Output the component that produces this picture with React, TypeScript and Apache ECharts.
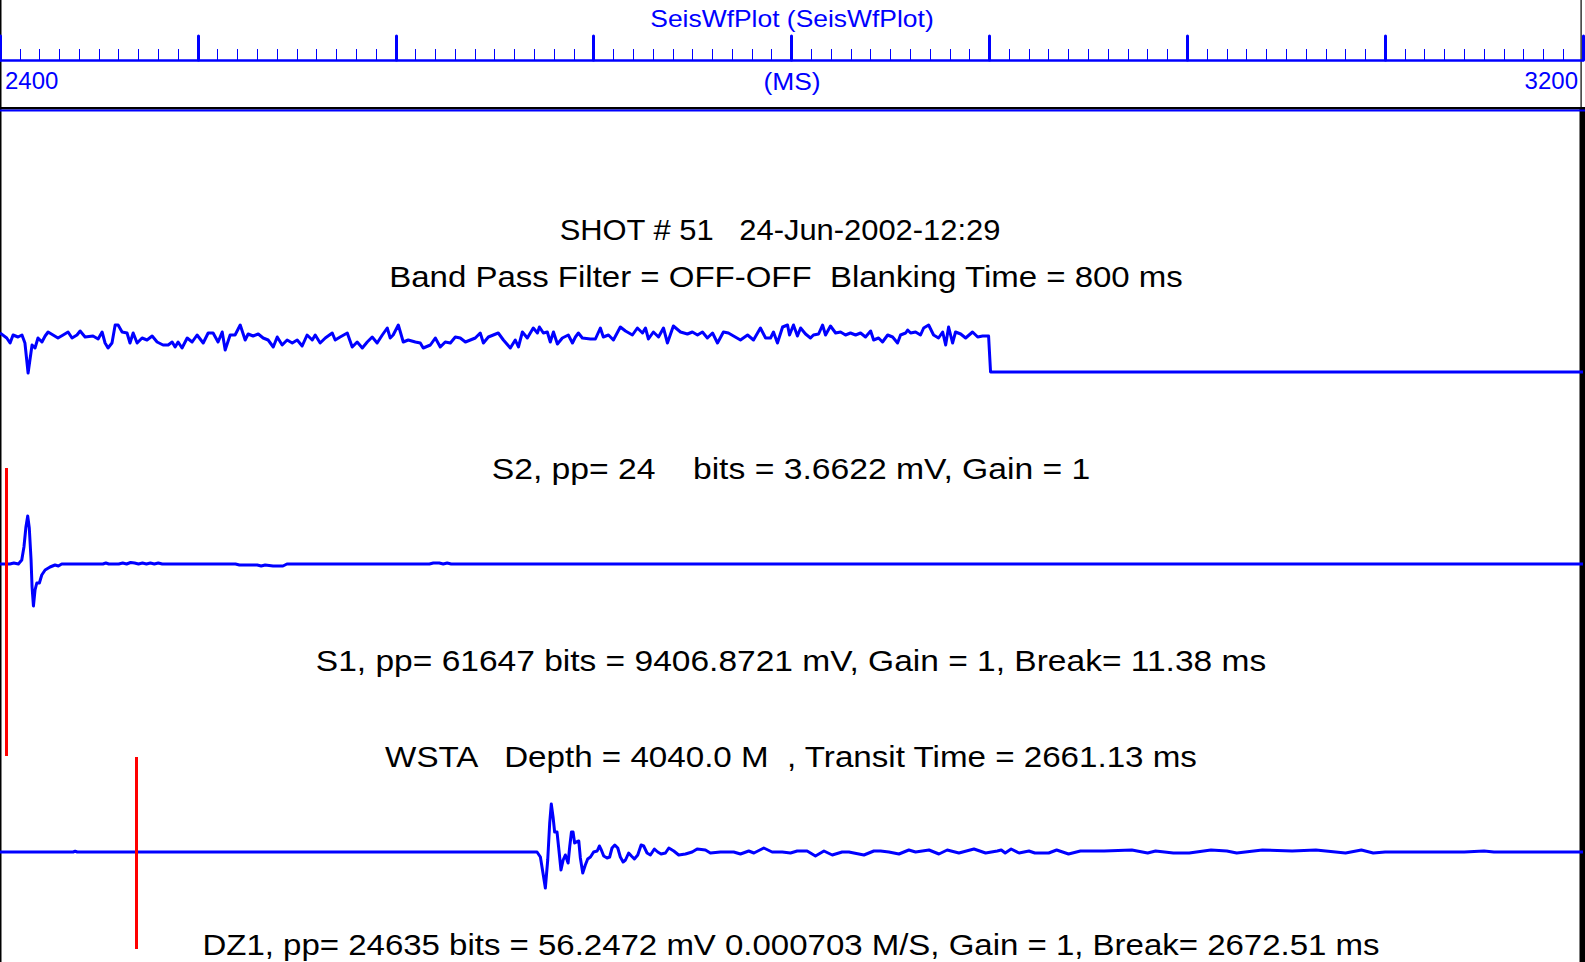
import React, { useEffect, useRef } from "react";
import * as echarts from "echarts";

const BLUE = "#0000ff";
const RED = "#ff0000";
const FONT = '"Liberation Sans", Arial, Helvetica, sans-serif';

// Time axis (ms)
const TIME_MIN = 2400;
const TIME_MAX = 3200;
const TIME_STEP = 100;
const EDGE_LABELS = [2400, 3200];

// Texts
const PLOT_TITLE = "SeisWfPlot (SeisWfPlot)";
const AXIS_UNIT = "(MS)";
const HEADER_1 = "SHOT # 51   24-Jun-2002-12:29";
const HEADER_2 = "Band Pass Filter = OFF-OFF  Blanking Time = 800 ms";
const LABEL_S2 = "S2, pp= 24    bits = 3.6622 mV, Gain = 1";
const LABEL_S1 = "S1, pp= 61647 bits = 9406.8721 mV, Gain = 1, Break= 11.38 ms";
const LABEL_WSTA = "WSTA   Depth = 4040.0 M  , Transit Time = 2661.13 ms";
const LABEL_DZ1 = "DZ1, pp= 24635 bits = 56.2472 mV 0.000703 M/S, Gain = 1, Break= 2672.51 ms";

// Break / pick markers (ms)
const S1_MARKER = [2403.4];
const DZ1_MARKER = [2468.8];

// Trace S2 : [time ms, amplitude]
const S2_TRACE = [
  [2400.0, 39], [2403.4, 34], [2405.1, 29], [2406.6, 37], [2409.1, 35], [2411.1, 37], [2412.6, 29], [2414.2, -1],
  [2416.2, 27], [2417.7, 24], [2419.2, 34], [2421.2, 30], [2422.8, 36], [2424.3, 40], [2426.8, 37], [2429.3, 34],
  [2431.9, 37], [2434.4, 40], [2436.4, 34], [2438.9, 37], [2440.5, 41], [2443.0, 35], [2447.0, 36], [2449.6, 33],
  [2451.6, 40], [2453.1, 29], [2454.6, 24], [2456.6, 29], [2458.2, 47], [2459.7, 47], [2461.7, 40], [2464.2, 39],
  [2465.7, 29], [2467.3, 39], [2469.3, 29], [2471.8, 34], [2474.3, 32], [2476.9, 36], [2479.4, 30], [2482.4, 27],
  [2485.0, 27], [2487.0, 30], [2488.5, 25], [2490.0, 30], [2492.0, 24], [2494.6, 34], [2497.1, 30], [2499.6, 37],
  [2502.7, 29], [2505.2, 39], [2507.7, 39], [2510.2, 30], [2512.3, 40], [2513.8, 22], [2516.3, 37], [2518.8, 37],
  [2521.4, 47], [2523.9, 32], [2525.4, 38], [2527.9, 36], [2530.5, 38], [2533.0, 34], [2535.5, 32], [2538.1, 25],
  [2540.1, 35], [2542.6, 27], [2545.1, 32], [2547.7, 29], [2550.2, 32], [2552.7, 26], [2555.2, 37], [2557.8, 32],
  [2559.3, 37], [2561.8, 29], [2564.4, 34], [2567.9, 39], [2569.4, 32], [2571.9, 35], [2575.5, 39], [2578.0, 25],
  [2580.5, 30], [2583.1, 24], [2585.6, 30], [2588.1, 35], [2590.6, 29], [2593.2, 37], [2595.7, 44], [2597.2, 34],
  [2598.7, 37], [2601.3, 47], [2603.8, 30], [2606.3, 32], [2609.9, 30], [2612.4, 29], [2613.9, 24], [2617.5, 27],
  [2620.0, 34], [2622.5, 25], [2625.0, 30], [2627.6, 29], [2630.1, 35], [2632.6, 34], [2635.2, 30], [2637.7, 32],
  [2640.2, 34], [2642.7, 39], [2644.3, 29], [2646.8, 35], [2649.3, 37], [2651.8, 39], [2654.4, 32], [2657.9, 24],
  [2660.4, 32], [2662.0, 25], [2664.0, 40], [2666.5, 34], [2669.5, 44], [2671.6, 39], [2672.6, 45], [2674.6, 39],
  [2676.6, 40], [2678.1, 30], [2679.7, 40], [2681.7, 28], [2684.2, 34], [2687.2, 37], [2689.3, 29], [2690.8, 35],
  [2692.3, 39], [2694.3, 34], [2698.4, 33], [2700.9, 33], [2703.4, 44], [2704.9, 35], [2707.5, 37], [2710.0, 32],
  [2713.5, 45], [2716.1, 41], [2719.6, 37], [2722.1, 44], [2724.7, 39], [2726.2, 44], [2727.7, 33], [2730.2, 40],
  [2732.8, 35], [2735.3, 44], [2737.3, 29], [2740.3, 46], [2743.9, 40], [2747.4, 38], [2749.9, 40], [2752.5, 37],
  [2755.0, 40], [2757.5, 34], [2760.1, 39], [2762.6, 29], [2765.6, 40], [2768.1, 39], [2770.7, 36], [2774.2, 32],
  [2777.8, 37], [2780.8, 32], [2784.3, 44], [2786.9, 34], [2789.4, 34], [2790.9, 40], [2792.9, 29], [2795.5, 45],
  [2798.0, 47], [2799.0, 37], [2801.0, 47], [2803.0, 36], [2804.6, 44], [2807.1, 38], [2809.6, 34], [2811.1, 37],
  [2813.7, 38], [2815.7, 47], [2817.2, 37], [2819.7, 46], [2822.3, 39], [2824.8, 40], [2827.3, 37], [2829.8, 39],
  [2832.4, 37], [2834.9, 39], [2837.4, 35], [2840.0, 41], [2841.5, 32], [2844.0, 34], [2846.0, 30], [2848.6, 37],
  [2851.1, 35], [2853.6, 29], [2855.1, 37], [2857.7, 39], [2858.7, 42], [2860.2, 39], [2862.7, 40], [2865.2, 37],
  [2866.8, 44], [2869.3, 47], [2871.8, 37], [2874.3, 34], [2876.4, 40], [2877.9, 27], [2879.4, 45], [2881.4, 29],
  [2882.9, 40], [2885.5, 38], [2888.0, 34], [2891.5, 40], [2894.1, 35], [2896.6, 36], [2899.6, 36], [2900.6, 0],
  [3200, 0],
];

// Trace S1 : [time ms, amplitude]
const S1_TRACE = [
  [2400, 0], [2405, 0], [2407, 1], [2409.3, 0], [2411, 4], [2412.1, 17], [2413.1, 37], [2414, 48], [2414.8, 36],
  [2415.7, 4], [2416.2, -23], [2416.9, -42], [2417.7, -26], [2418.6, -19], [2419.9, -19], [2421.1, -11],
  [2422.8, -6], [2425.3, -3], [2427.8, -1], [2429.5, -2], [2431.2, 0], [2452, 0], [2453.5, 1], [2455, 0],
  [2460, 0], [2462, 1], [2464, 0], [2466, 1.5], [2468, 1], [2470, 0], [2472, 1], [2474, 0], [2476, 1], [2478, 0],
  [2480, 1], [2482, 0], [2519, 0], [2521, -1], [2530, -1], [2532, -2], [2534, -1], [2538, -2], [2543, -2],
  [2545, 0], [2617, 0], [2619, 1], [2622, 1], [2624, 0], [2626, 1], [2628, 0], [3200, 0],
];

// Trace DZ1 : [time ms, amplitude]
const DZ1_TRACE = [
  [2400, 0], [2437, 0], [2438, 0.8], [2439, 0], [2671.4, 0], [2673.1, -5], [2674.4, -21], [2675.6, -36],
  [2676.8, -8], [2677.8, 29], [2678.6, 48], [2679.5, 35], [2680.3, 20], [2681.5, 20], [2682.3, 5], [2683.5, -18],
  [2684.6, -8], [2685.7, -3], [2687.1, -11], [2687.9, 5], [2688.8, 20], [2689.6, 20], [2690.4, 9], [2691.3, 10],
  [2692.5, 11], [2693.3, -6], [2694.5, -21], [2695.8, -13], [2697.0, -7], [2698.4, -5], [2700.0, 0], [2701.8, 1],
  [2702.9, 6], [2703.9, 2], [2705.1, -4], [2706.8, -6], [2708.1, -5], [2709.3, 4], [2710.7, 7], [2712.2, 4],
  [2713.5, -5], [2714.9, -10], [2716.1, -8], [2717.7, -1], [2719.1, -4], [2720.6, -7], [2722.3, -3], [2724.0, 7],
  [2725.3, 6], [2727.0, -1], [2728.7, -3], [2730.7, 3], [2732.4, 0], [2734.1, -2], [2736.3, -1], [2738.0, 4],
  [2740.5, 1], [2743.0, -3], [2746.4, -2], [2749.8, 0], [2752.3, 3], [2756.5, 2], [2759.0, -1], [2764.1, 0],
  [2767.5, 0], [2770.8, 0], [2774.2, -2], [2778.4, 1], [2781, -1], [2786, 4], [2790.2, 0], [2795.3, 0],
  [2799.5, -1], [2802.9, 1], [2807.9, 1], [2812.1, -4], [2816.4, 1], [2820.6, -3], [2825.6, 0], [2829, 0],
  [2831.5, -1], [2836.6, -3], [2841.6, 1], [2845, 1], [2849.2, 0], [2854.3, -2], [2859.3, 2], [2862.7, 0],
  [2869.5, 2], [2874.5, -2], [2878.7, 2], [2884.6, -1], [2892.2, 3], [2898.1, -1], [2904.0, 1], [2906, 2],
  [2908, -1], [2911, 3], [2915, -1], [2920, 1], [2923, -1], [2930, -1], [2934, 2], [2940, -2], [2946, 1],
  [2958, 1], [2972, 2], [2980, -1], [2984, 1], [2993, -1], [3001, -1], [3012, 2], [3020, 1], [3025, -1],
  [3038, 2], [3053, 1], [3065, 2], [3080, -1], [3088, 2], [3094, -1], [3100, 0], [3140, 0], [3150, 1],
  [3155, 0], [3200, 0],
];

const W = 1585;
const H = 962;

function hiddenX(gridIndex: number) {
  return {
    gridIndex,
    type: "value",
    min: TIME_MIN,
    max: TIME_MAX,
    show: false,
  };
}

function trace(name: string, idx: number, data: number[][], markers?: number[]) {
  const s: any = {
    name,
    type: "line",
    xAxisIndex: idx,
    yAxisIndex: idx,
    data,
    showSymbol: false,
    symbol: "none",
    silent: true,
    lineStyle: { color: BLUE, width: 3, join: "round" },
  };
  if (markers) {
    s.markLine = {
      silent: true,
      symbol: ["none", "none"],
      label: { show: false },
      lineStyle: { color: RED, width: 3, type: "solid" },
      data: markers.map((m) => ({ xAxis: m })),
    };
  }
  return s;
}

function bigText(text: string, x: number, y: number, scaleX: number) {
  return {
    type: "text",
    x,
    y,
    scaleX,
    silent: true,
    style: {
      text,
      x: 0,
      y: 0,
      align: "center",
      verticalAlign: "middle",
      fontSize: 30,
      fontFamily: FONT,
      fill: "#000",
    },
  };
}

export default function App() {
  const ref = useRef<HTMLDivElement>(null);

  useEffect(() => {
    if (!ref.current) return;
    const chart = echarts.init(ref.current, null, { renderer: "svg" });
    const option: any = {
      animation: false,
      backgroundColor: "#ffffff",
      grid: [
        { left: 0, right: 2, top: 60, height: 40 },
        { left: 0, right: 2, top: 300, height: 100 },
        { left: 0, right: 2, top: 468, height: 288 },
        { left: 0, right: 2, top: 757, height: 192 },
      ],
      xAxis: [
        {
          gridIndex: 0,
          type: "value",
          position: "top",
          min: TIME_MIN,
          max: TIME_MAX,
          interval: TIME_STEP,
          axisLine: { show: true, onZero: false, lineStyle: { color: BLUE, width: 2.5 } },
          axisTick: { show: true, inside: false, length: 24, lineStyle: { color: BLUE, width: 3, cap: "round" } },
          minorTick: { show: true, splitNumber: 10, length: 11, lineStyle: { color: BLUE, width: 1 } },
          splitLine: { show: false },
          minorSplitLine: { show: false },
          axisLabel: {
            inside: true,
            margin: 8,
            color: BLUE,
            fontSize: 24,
            fontFamily: FONT,
            showMinLabel: true,
            showMaxLabel: true,
            alignMinLabel: "left",
            alignMaxLabel: "right",
            padding: [0, 5, 0, 5],
            formatter: (v: number) => (EDGE_LABELS.includes(v) ? String(v) : ""),
          },
        },
        hiddenX(1),
        hiddenX(2),
        hiddenX(3),
      ],
      yAxis: [
        { gridIndex: 0, type: "value", show: false },
        { gridIndex: 1, type: "value", show: false, min: -28, max: 72 },
        { gridIndex: 2, type: "value", show: false, min: -192, max: 96 },
        { gridIndex: 3, type: "value", show: false, min: -97, max: 95 },
      ],
      series: [
        trace("S2", 1, S2_TRACE),
        trace("S1", 2, S1_TRACE, S1_MARKER),
        trace("DZ1", 3, DZ1_TRACE, DZ1_MARKER),
      ],
      graphic: [
        { type: "rect", silent: true, shape: { x: 0, y: 0, width: 1.5, height: H }, style: { fill: "#000" } },
        { type: "rect", silent: true, shape: { x: 1580.5, y: 0, width: 1.2, height: 108 }, style: { fill: "#000" } },
        { type: "rect", silent: true, shape: { x: 1579.5, y: 107, width: 5.5, height: H - 107 }, style: { fill: "#000" } },
        { type: "rect", silent: true, shape: { x: 0, y: 107, width: W, height: 2.5 }, style: { fill: "#000" } },
        { type: "rect", silent: true, shape: { x: 0, y: 109.5, width: W, height: 2 }, style: { fill: BLUE } },
        {
          type: "text",
          x: 792,
          y: 19,
          scaleX: 1.15,
          silent: true,
          style: { text: PLOT_TITLE, x: 0, y: 0, align: "center", verticalAlign: "middle", fontSize: 23, fontFamily: FONT, fill: BLUE },
        },
        {
          type: "text",
          x: 792,
          y: 81,
          scaleX: 1.1,
          silent: true,
          style: { text: AXIS_UNIT, x: 0, y: 0, align: "center", verticalAlign: "middle", fontSize: 24, fontFamily: FONT, fill: BLUE },
        },
        bigText(HEADER_1, 780, 229, 1.03),
        bigText(HEADER_2, 786, 277, 1.1),
        bigText(LABEL_S2, 791, 469, 1.123),
        bigText(LABEL_S1, 791, 661, 1.118),
        bigText(LABEL_WSTA, 791, 757, 1.105),
        bigText(LABEL_DZ1, 791, 945, 1.1),
      ],
    };
    chart.setOption(option);
    return () => chart.dispose();
  }, []);

  return (
    <div
      ref={ref}
      style={{ position: "fixed", left: 0, top: 0, width: W, height: H, background: "#fff" }}
    />
  );
}
